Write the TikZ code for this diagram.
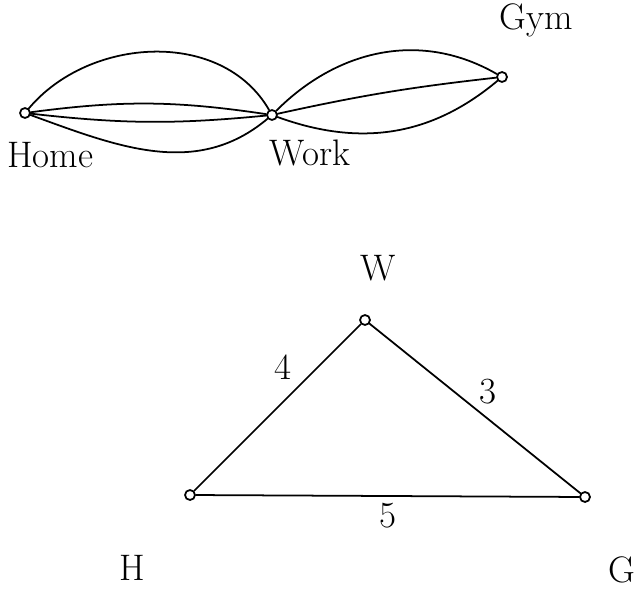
\documentclass[tikz,border=0pt]{standalone}
\usepackage{fontspec}
\usepackage{tikz}
\usetikzlibrary{positioning}

\begin{document}
\begin{tikzpicture}[
        x=0.04cm, y=-0.04cm,
        font=\fontsize{42}{46}\selectfont,
        place/.style={draw, circle, line width=2pt, inner sep=0pt, minimum size=4mm},
        tag/.style={inner sep=1pt},
        road/.style={line width=2pt, line cap=round}
    ]
        \useasboundingbox (0,0) rectangle (643,608);

        % multigraph
        \node[place] (home) at (25,113) {};
        \node[place] (work) at (272,115) {};
        \node[place] (gym) at (502,77) {};
        \node[tag] (homel) at (50,155) {Home};
        \node[tag] (workl) at (310,153) {Work};
        \node[tag] (gyml) at (536,20) {Gym};

        \draw[road] (home) to[out=50, in=120] (work);
        \draw[road] (home) to[bend left=8] (work);
        \draw[road] (home) to[bend right=6] (work);
        \draw[road] (home) to[out=-20, in=-140] (work);
        \draw[road] (work) to[out=45, in=150] (gym);
        \draw[road] (work) to[bend left=3] (gym);
        \draw[road] (work) to[out=-20, in=-140] (gym);

        % weighted triangle
        \node[place] (h) at (190,495) {};
        \node[place] (w) at (365,320) {};
        \node[place] (g) at (585,497) {};
        \node[tag] (wl) at (378,268) {W};
        \node[tag] (hl) at (132,568) {H};
        \node[tag] (gl) at (622,570) {G};

        \draw[road] (h) -- node[pos=0.64, above left=1pt and 6pt] {4} (w);
        \draw[road] (w) -- node[pos=0.5, above right=1pt] {3} (g);
        \draw[road] (h) -- node[below=4pt] {5} (g);
    \end{tikzpicture}
\end{document}
